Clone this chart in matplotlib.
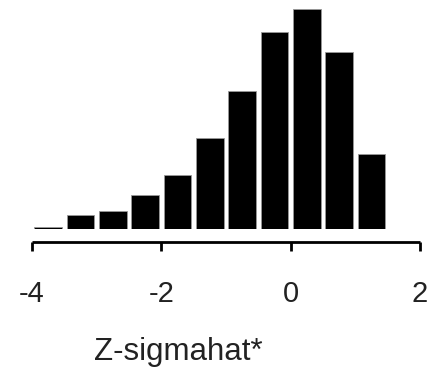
import numpy as np
import matplotlib.pyplot as plt

plt.rcParams['font.family'] = ['Liberation Sans', 'DejaVu Sans']

# histogram bins (left edges) and counts
bin_left = [-4.0, -3.5, -3.0, -2.5, -2.0, -1.5, -1.0, -0.5, 0.0, 0.5, 1.0]
counts = [1, 6, 8, 15, 24, 40, 61, 87, 97, 78, 33]
xticks = [-4, -2, 0, 2]
xlabel = 'Z-sigmahat*'

BIN_W = 0.5
BAR_W = 0.43

fig = plt.figure(figsize=(4.28, 3.69), dpi=100)
ax = fig.add_axes([32 / 428, 140 / 369, 388 / 428, 229 / 369])

centers = np.array(bin_left) + BIN_W / 2
ax.bar(centers, counts, width=BAR_W, color='black', edgecolor='#999999', linewidth=0.6)

ax.set_xlim(-4, 2)
ax.set_ylim(0, 101)

for side in ['top', 'right', 'left']:
    ax.spines[side].set_visible(False)
ax.spines['bottom'].set_position(('outward', 9))
ax.spines['bottom'].set_linewidth(2.0)
ax.spines['bottom'].set_capstyle('butt')
ax.set_yticks([])
ax.set_xticks(xticks)
ax.set_xticklabels([str(t) for t in xticks])
ax.tick_params(axis='x', direction='out', length=6.5, width=2.0, pad=21,
               labelsize=21, labelcolor='#222222')

fig.text(178 / 428, 1 - 352 / 369, xlabel, ha='center', va='center',
         fontsize=22.5, color='#222222')

fig.savefig('out.png', dpi=100)
